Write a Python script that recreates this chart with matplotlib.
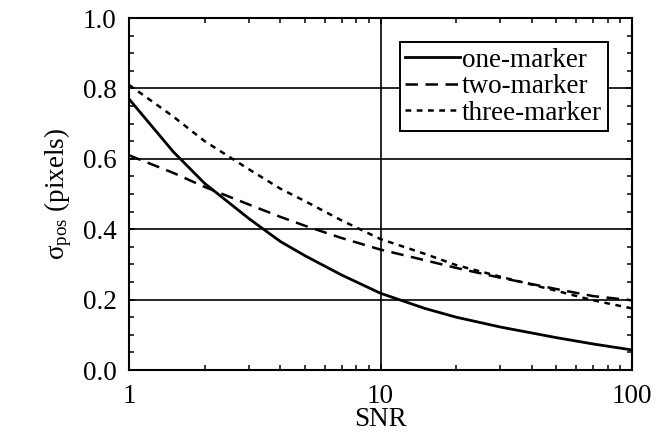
import matplotlib
matplotlib.use("Agg")
import matplotlib.pyplot as plt
from matplotlib.ticker import FixedLocator, MultipleLocator, NullFormatter, FixedFormatter
import numpy as np

plt.rcParams['font.family'] = ['Liberation Serif', 'DejaVu Serif']
plt.rcParams['mathtext.fontset'] = 'custom'
plt.rcParams['mathtext.rm'] = 'Liberation Serif'
plt.rcParams['mathtext.it'] = 'Liberation Serif:italic'

# values
snr = [1, 1.5, 2, 3, 4, 5, 7, 10, 15, 20, 30, 50, 70, 100]
one_marker = [0.77, 0.62, 0.53, 0.43, 0.365, 0.325, 0.27, 0.218, 0.175, 0.15, 0.122, 0.092, 0.074, 0.057]
two_marker = [0.61, 0.56, 0.52, 0.47, 0.435, 0.41, 0.375, 0.342, 0.312, 0.29, 0.262, 0.23, 0.21, 0.198]
three_marker = [0.81, 0.72, 0.65, 0.57, 0.515, 0.48, 0.425, 0.372, 0.33, 0.298, 0.265, 0.225, 0.198, 0.175]

fig = plt.figure(figsize=(6.62, 4.33), dpi=100)
ax = fig.add_axes([129 / 662, 63 / 433, 503 / 662, 352 / 433])

ax.set_xscale('log')
ax.set_xlim(1, 100)
ax.set_ylim(0, 1.0)

# grid lines (only at y major ticks and x=10)
for y in [0.2, 0.4, 0.6, 0.8]:
    ax.axhline(y, color='black', lw=1.2, zorder=1)
ax.axvline(10, color='black', lw=1.2, zorder=1)

ax.plot(snr, one_marker, color='black', lw=2.0, ls='-', label='one-marker', zorder=3)
ax.plot(snr, two_marker, color='black', lw=1.8, ls=(0, (5, 3)), label='two-marker', zorder=3)
ax.plot(snr, three_marker, color='black', lw=1.8, ls=(0, (2.3, 2.2)), label='three-marker', zorder=3)

ax.xaxis.set_major_locator(FixedLocator([1, 10, 100]))
ax.xaxis.set_major_formatter(FixedFormatter(['1', '10', '100']))
ax.xaxis.set_minor_locator(FixedLocator([m * d for d in (1, 10) for m in range(2, 10)]))
ax.xaxis.set_minor_formatter(NullFormatter())
ax.yaxis.set_major_locator(MultipleLocator(0.2))
ax.yaxis.set_minor_locator(MultipleLocator(0.05))
ax.yaxis.set_major_formatter(plt.FuncFormatter(lambda v, p: f'{v:.1f}'))

ax.tick_params(which='both', direction='in', top=True, right=True, width=1.1, labelsize=19.5)
ax.tick_params(axis='y', which='major', length=4, pad=9)
ax.tick_params(axis='x', which='major', length=4, pad=10)
ax.tick_params(which='minor', length=3.5)

for s in ax.spines.values():
    s.set_linewidth(1.5)

ax.set_xlabel('SNR', fontsize=19.5, labelpad=-1)
ax.set_ylabel(r'$\mathrm{σ_{pos}}$ (pixels)', fontsize=19.5, labelpad=6)

leg = ax.legend(loc='upper right', fontsize=19.5, frameon=True, fancybox=False,
                edgecolor='black', framealpha=1, handlelength=2.0, handletextpad=0.1,
                labelspacing=0.05, borderpad=0.2, borderaxespad=0.9)
leg.get_frame().set_linewidth(1.4)

fig.savefig('out.png', dpi=100)
